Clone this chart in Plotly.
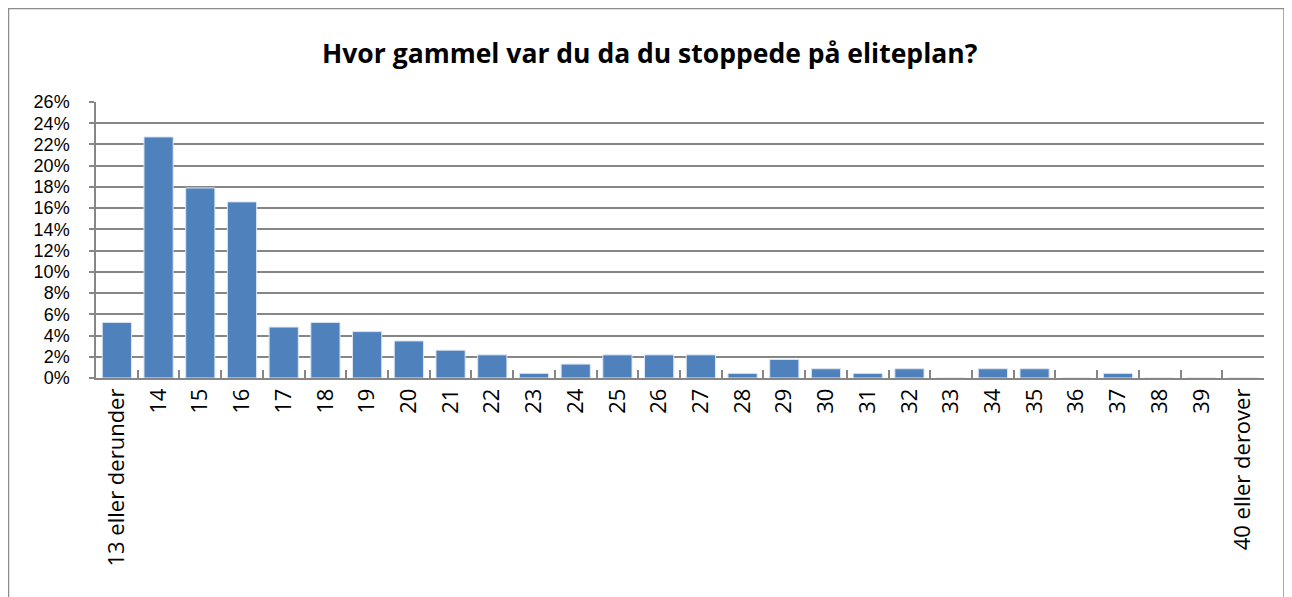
import plotly.graph_objects as go

categories = ["13 eller derunder", "14", "15", "16", "17", "18", "19", "20", "21", "22",
              "23", "24", "25", "26", "27", "28", "29", "30", "31", "32", "33", "34",
              "35", "36", "37", "38", "39", "40 eller derover"]
values = [5.24, 22.71, 17.90, 16.59, 4.80, 5.24, 4.37, 3.49, 2.62, 2.18,
          0.44, 1.31, 2.18, 2.18, 2.18, 0.44, 1.75, 0.87, 0.44, 0.87, 0.0, 0.87,
          0.87, 0.0, 0.44, 0.0, 0.0, 0.0]
y_ticks = list(range(0, 27, 2))
title_text = "Hvor gammel var du da du stoppede på eliteplan?"

# page body has an 8px margin; figure origin sits at (8, 8) of the window
OFF = 8
W, H = 1292 - OFF, 597 - OFF
L = 96 - OFF
R = W - (1264 - OFF)
T = 102 - OFF
B = 219
pw, ph = W - L - R, H - T - B

fig = go.Figure(go.Bar(
    x=categories, y=values,
    marker=dict(color="#4F81BD", line=dict(color="#DCE6F2", width=1)),
    width=0.7,
))

def px_x(v):
    return (v - OFF - L) / pw

def px_y(v):
    return (H - B - (v - OFF)) / ph

fig.update_layout(
    width=W, height=H,
    margin=dict(l=L, r=R, t=T, b=B),
    paper_bgcolor="white", plot_bgcolor="white",
    showlegend=False,
    font=dict(family="Open Sans, Noto Sans, sans-serif", color="black"),
    annotations=[dict(
        text="<b>" + title_text + "</b>", x=px_x(650), y=px_y(53),
        xref="paper", yref="paper", showarrow=False,
        font=dict(size=26.5, family="Open Sans, sans-serif", color="black"),
        xanchor="center", yanchor="middle",
    )],
    shapes=[dict(
        type="rect", xref="paper", yref="paper",
        x0=px_x(8.5), x1=px_x(1284), y0=px_y(640), y1=px_y(8.5),
        line=dict(color="#8C8C8C", width=1.5), fillcolor="rgba(0,0,0,0)",
        layer="below",
    )],
)

fig.update_xaxes(
    type="category", tickangle=-90, tickson="boundaries",
    ticks="inside", ticklen=8, tickcolor="#868686", tickwidth=1.5,
    showline=True, linecolor="#868686", linewidth=1.5,
    showgrid=False, tickfont=dict(size=22, color="black"),
    range=[-0.5, len(categories) - 0.5],
)
fig.update_yaxes(
    range=[0, 26], tickvals=y_ticks, ticktext=[f"{v}%" for v in y_ticks],
    ticks="outside", ticklen=5, tickcolor="#868686", tickwidth=1.5,
    showline=True, linecolor="#868686", linewidth=1.5,
    showgrid=True, gridcolor="#868686", gridwidth=1.5,
    tickfont=dict(size=18, family="Liberation Sans, Arial, sans-serif", color="black"),
    ticklabelstandoff=16,
    zeroline=False,
)

fig.write_html("out.html")
